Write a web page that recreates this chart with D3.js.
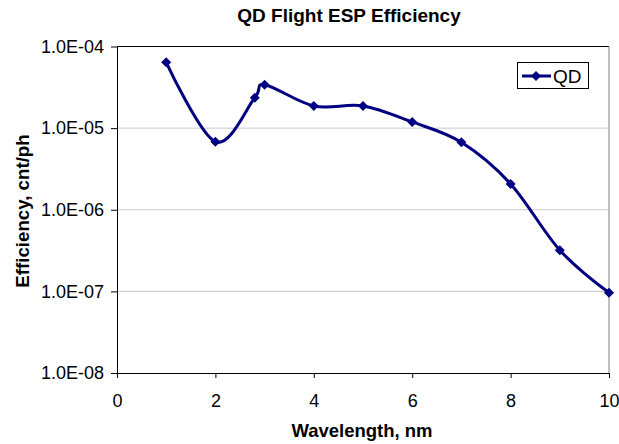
<!DOCTYPE html>
<html><head><meta charset="utf-8">
<script src="https://cdn.jsdelivr.net/npm/d3@7"></script>
<style>body{margin:0;background:#fff}svg{display:block;font-family:"Liberation Sans",Arial,sans-serif}</style>
</head><body><svg id="c" width="619" height="444"></svg>
<script>
const wavelength = [1, 2, 2.8, 3, 4, 5, 6, 7, 8, 9, 10];
const efficiency = [6.4e-5, 6.8e-6, 2.35e-5, 3.4e-5, 1.87e-5, 1.87e-5, 1.19e-5, 6.7e-6, 2.07e-6, 3.2e-7, 9.6e-8];
const xTicks = [0, 2, 4, 6, 8, 10];
const yTicks = [1e-8, 1e-7, 1e-6, 1e-5, 1e-4];
const seriesName = "QD";

const svg = d3.select("#c");
const L = 117, R = 609, T = 46.5, B = 373;
const x = d3.scaleLinear().domain([0, 10]).range([L, R]);
const y = d3.scaleLog().domain([1e-8, 1e-4]).range([B, T]);
const fmt = v => { const e = Math.round(Math.log10(v)); return "1.0E-" + String(-e).padStart(2, "0"); };

// gridlines
svg.append("g").selectAll("line").data(yTicks.slice(1, -1)).join("line")
  .attr("x1", L).attr("x2", R).attr("y1", d => y(d)).attr("y2", d => y(d))
  .attr("stroke", "#c8c8c8").attr("stroke-width", 1);
// plot border
svg.append("line").attr("x1", L).attr("x2", R).attr("y1", T).attr("y2", T).attr("stroke", "#000");
svg.append("line").attr("x1", R).attr("x2", R).attr("y1", T).attr("y2", B).attr("stroke", "#808080");

// axes
const xa = svg.append("g").attr("transform", `translate(0,${B})`)
  .call(d3.axisBottom(x).tickValues(xTicks).tickSize(5).tickPadding(16).tickSizeOuter(0).tickFormat(d3.format("d")));
const ya = svg.append("g").attr("transform", `translate(${L},0)`)
  .call(d3.axisLeft(y).tickValues(yTicks).tickSize(6).tickPadding(7).tickSizeOuter(0).tickFormat(fmt));
[xa, ya].forEach(g => {
  g.select(".domain").attr("stroke", "#000");
  g.selectAll(".tick line").attr("stroke", "#000");
  g.selectAll("text").attr("font-size", 18).attr("fill", "#000").attr("font-family", "Liberation Sans, Arial, sans-serif");
});

// line
const pts = wavelength.map((w, i) => [x(w), y(efficiency[i])]);
svg.append("path").attr("d", d3.line().curve(d3.curveCardinal.tension(0))(pts))
  .attr("fill", "none").attr("stroke", "#000080").attr("stroke-width", 3);
const diamond = d3.symbol().type(d3.symbolDiamond2).size(64);
svg.append("g").selectAll("path").data(pts).join("path")
  .attr("transform", d => `translate(${d[0]},${d[1]})`).attr("d", diamond).attr("fill", "#000080");

// legend
const lg = svg.append("g");
lg.append("rect").attr("x", 517.5).attr("y", 62.5).attr("width", 71).attr("height", 26)
  .attr("fill", "#fff").attr("stroke", "#000");
lg.append("line").attr("x1", 522).attr("x2", 551).attr("y1", 76).attr("y2", 76).attr("stroke", "#000080").attr("stroke-width", 3);
lg.append("path").attr("transform", "translate(536,76)").attr("d", diamond).attr("fill", "#000080");
lg.append("text").attr("x", 553).attr("y", 83).attr("font-size", 19).text(seriesName);

// titles
svg.append("text").attr("x", 349).attr("y", 22).attr("text-anchor", "middle")
  .attr("font-size", 19).attr("font-weight", "bold").text("QD Flight ESP Efficiency");
svg.append("text").attr("x", 362).attr("y", 437).attr("text-anchor", "middle")
  .attr("font-size", 18.5).attr("font-weight", "bold").text("Wavelength, nm");
svg.append("text").attr("transform", "translate(29,211) rotate(-90)").attr("text-anchor", "middle")
  .attr("font-size", 18.7).attr("font-weight", "bold").text("Efficiency, cnt/ph");
</script></body></html>
